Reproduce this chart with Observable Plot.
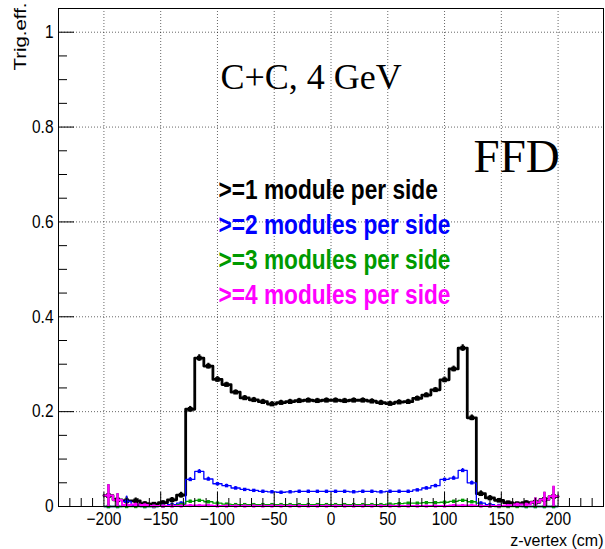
<!DOCTYPE html>
<html>
<head>
<meta charset="utf-8">
<script src="https://cdn.jsdelivr.net/npm/d3@7"></script>
<script src="https://cdn.jsdelivr.net/npm/@observablehq/plot@0.6"></script>
<style>
  body { margin: 0; background: #fff; }
  svg { display: block; }
</style>
</head>
<body>
<div id="chart"></div>
<script>
// z-vertex bin centres (8 cm bins from -200 to 200 cm)
const zCenters = d3.range(-196, 200, 8);

// Trigger efficiency per bin, one series per module multiplicity
const effGe1 = [
  0.023, 0.014, 0.012, 0.012, 0.006, 0.005, 0.008, 0.014, 0.024, 0.205,
  0.313, 0.296, 0.268, 0.257, 0.241, 0.229, 0.225, 0.221, 0.216, 0.219,
  0.221, 0.223, 0.224, 0.223, 0.224, 0.224, 0.223, 0.224, 0.224, 0.222,
  0.219, 0.217, 0.220, 0.221, 0.228, 0.235, 0.246, 0.267, 0.290, 0.334,
  0.187, 0.027, 0.018, 0.013, 0.008, 0.006, 0.008, 0.009, 0.015, 0.021
];
const errGe1 = [
  0.023, 0.013, 0.008, 0.006, 0.004, 0.003, 0.004, 0.005, 0.006, 0.006,
  0.007, 0.006, 0.006, 0.005, 0.005, 0.005, 0.005, 0.005, 0.005, 0.005,
  0.005, 0.005, 0.005, 0.005, 0.005, 0.005, 0.005, 0.005, 0.005, 0.005,
  0.005, 0.005, 0.005, 0.005, 0.005, 0.005, 0.005, 0.006, 0.006, 0.007,
  0.006, 0.006, 0.005, 0.004, 0.003, 0.003, 0.004, 0.009, 0.015, 0.021
];
const effGe2 = [
  0, 0, 0.011, 0.002, 0, 0, 0.002, 0.004, 0.007, 0.057,
  0.074, 0.058, 0.048, 0.044, 0.039, 0.036, 0.034, 0.032, 0.031, 0.030,
  0.031, 0.032, 0.032, 0.032, 0.032, 0.032, 0.032, 0.031, 0.032, 0.032,
  0.031, 0.032, 0.032, 0.032, 0.035, 0.039, 0.044, 0.057, 0.060, 0.076,
  0.050, 0.007, 0.004, 0.002, 0.001, 0.001, 0, 0, 0, 0
];
const errGe2 = [
  0, 0, 0.011, 0.002, 0, 0, 0.002, 0.002, 0.003, 0.004,
  0.004, 0.004, 0.003, 0.003, 0.003, 0.002, 0.002, 0.002, 0.002, 0.002,
  0.002, 0.002, 0.002, 0.002, 0.002, 0.002, 0.002, 0.002, 0.002, 0.002,
  0.002, 0.002, 0.002, 0.002, 0.002, 0.003, 0.003, 0.003, 0.004, 0.004,
  0.004, 0.003, 0.002, 0.001, 0.001, 0.001, 0, 0, 0, 0
];
const effGe3 = [
  0, 0, 0, 0, 0, 0, 0.001, 0.002, 0.004, 0.011,
  0.013, 0.010, 0.007, 0.005, 0.004, 0.004, 0.004, 0.004, 0.004, 0.004,
  0.004, 0.004, 0.004, 0.004, 0.004, 0.004, 0.004, 0.004, 0.004, 0.004,
  0.004, 0.005, 0.006, 0.007, 0.007, 0.008, 0.008, 0.009, 0.011, 0.013,
  0.010, 0.002, 0.001, 0, 0, 0, 0, 0, 0, 0
];
const errGe3 = [
  0, 0, 0, 0, 0, 0, 0.001, 0.001, 0.002, 0.002,
  0.002, 0.002, 0.002, 0.001, 0.001, 0.001, 0.001, 0.001, 0.001, 0.001,
  0.001, 0.001, 0.001, 0.001, 0.001, 0.001, 0.001, 0.001, 0.001, 0.001,
  0.001, 0.001, 0.001, 0.001, 0.001, 0.001, 0.002, 0.002, 0.002, 0.002,
  0.002, 0.001, 0.001, 0, 0, 0, 0, 0, 0, 0
];
const effGe4 = [
  0.023, 0.0135, 0.003, 0.004, 0.003, 0.001, 0.001, 0.001, 0.001, 0.002,
  0.002, 0.002, 0.001, 0.001, 0.001, 0.001, 0.001, 0.001, 0.001, 0.001,
  0.001, 0.001, 0.001, 0.001, 0.001, 0.001, 0.001, 0.001, 0.001, 0.001,
  0.001, 0.001, 0.001, 0.001, 0.001, 0.001, 0.001, 0.001, 0.002, 0.002,
  0.002, 0.001, 0.001, 0.001, 0.002, 0.004, 0.004, 0.009, 0.015, 0.0215
];
const errGe4 = [
  0.023, 0.0135, 0.002, 0.003, 0.002, 0.001, 0.001, 0.001, 0.001, 0.001,
  0.001, 0.001, 0.001, 0.001, 0.001, 0.001, 0.001, 0.001, 0.001, 0.001,
  0.001, 0.001, 0.001, 0.001, 0.001, 0.001, 0.001, 0.001, 0.001, 0.001,
  0.001, 0.001, 0.001, 0.001, 0.001, 0.001, 0.001, 0.001, 0.001, 0.001,
  0.001, 0.001, 0.001, 0.001, 0.002, 0.003, 0.003, 0.009, 0.015, 0.0215
];

const legendLabels = [
  ">=1 module per side",
  ">=2 modules per side",
  ">=3 modules per side",
  ">=4 modules per side"
];
const seriesColors = ["#000000", "#0000ff", "#009a00", "#ff00ff"];

const xTicks = [-200, -150, -100, -50, 0, 50, 100, 150, 200];
const yTicks = [0, 0.2, 0.4, 0.6, 0.8, 1];
const titleText = "C+C, 4 GeV";
const detectorText = "FFD";
const xLabel = "z-vertex (cm)";
const yLabel = "Trig.eff.";

// ---- layout ----
const W = 605, H = 549;
const mL = 58, mR = 2, mT = 8, mB = 43;
const frameW = W - mL - mR, frameH = H - mT - mB;
const binW = zCenters[1] - zCenters[0];

// histogram outline: flat top across each bin
function stepPoints(values) {
  const pts = [];
  zCenters.forEach((z, i) => {
    pts.push({z: z - binW / 2, v: values[i]});
    pts.push({z: z + binW / 2, v: values[i]});
  });
  return pts;
}
function binPoints(values, errs) {
  return zCenters.map((z, i) => ({z, v: values[i], lo: values[i] - errs[i], hi: values[i] + errs[i]}));
}

const series = [
  {vals: effGe1, errs: errGe1, color: seriesColors[0], lw: 2.8, r: 2.6, ew: 2.2},
  {vals: effGe2, errs: errGe2, color: seriesColors[1], lw: 1.3, r: 1.9, ew: 1.4},
  {vals: effGe3, errs: errGe3, color: seriesColors[2], lw: 1.3, r: 1.9, ew: 1.4},
  {vals: effGe4, errs: errGe4, color: seriesColors[3], lw: 2, r: 1.8, ew: 2.4}
];

const minorX = d3.range(-230, 240, 10).filter(d => d % 50 !== 0);
const minorY = d3.range(0.05, 1.05, 0.05).filter(d => Math.abs(d * 5 - Math.round(d * 5)) > 1e-6);

const marks = [
  // dotted grid
  Plot.ruleX(xTicks, {stroke: "#000", strokeOpacity: 0.6, strokeDasharray: "1,2"}),
  Plot.ruleY(yTicks.filter(d => d > 0), {stroke: "#000", strokeOpacity: 0.6, strokeDasharray: "1,2"})
];

series.forEach(s => {
  const b = binPoints(s.vals, s.errs);
  marks.push(
    Plot.line(stepPoints(s.vals), {x: "z", y: "v", stroke: s.color, strokeWidth: s.lw, curve: "linear"}),
    Plot.ruleX(b, {x: "z", y1: "lo", y2: "hi", stroke: s.color, strokeWidth: s.ew}),
    Plot.dot(b, {x: "z", y: "v", symbol: "square", r: s.r, fill: s.color, stroke: null})
  );
});

marks.push(
  Plot.frame({stroke: "#000", strokeWidth: 1}),
  // inward tick marks
  Plot.tickY(yTicks, {y: d => d, insetRight: frameW - 16, stroke: "#000"}),
  Plot.tickY(minorY, {y: d => d, insetRight: frameW - 9, stroke: "#000"}),
  Plot.tickX(xTicks, {x: d => d, insetTop: frameH - 14, stroke: "#000"}),
  Plot.tickX(minorX, {x: d => d, insetTop: frameH - 8, stroke: "#000"}),
  Plot.axisX(xTicks, {tickSize: 0, tickPadding: 6, fontSize: 18, label: null}),
  Plot.axisY(yTicks, {tickSize: 0, tickPadding: 5, fontSize: 18, label: null, tickFormat: d => String(d)}),
  // axis titles
  Plot.text([xLabel], {frameAnchor: "bottom-right", textAnchor: "end", lineAnchor: "bottom", dy: 39, fontSize: 16, fill: "#000"}),
  Plot.text([yLabel], {frameAnchor: "top-left", textAnchor: "end", lineAnchor: "bottom", rotate: -90, dx: -33, dy: -6, fontSize: 17, fill: "#000"}),
  // annotations
  Plot.text([titleText], {frameAnchor: "top-left", textAnchor: "start", lineAnchor: "bottom", dx: 162, dy: 80, fontSize: 36, fontFamily: "Liberation Serif", fill: "#000"}),
  Plot.text([detectorText], {frameAnchor: "top-left", textAnchor: "start", lineAnchor: "bottom", dx: 415, dy: 163, fontSize: 47, fontFamily: "Liberation Serif", fill: "#000"})
);

legendLabels.forEach((label, i) => {
  marks.push(Plot.text([label], {
    frameAnchor: "top-left", textAnchor: "start", lineAnchor: "bottom",
    dx: 160, dy: 190 + i * 35, fontSize: 28, fontWeight: "bold",
    fill: seriesColors[i]
  }));
});

const svg = Plot.plot({
  width: W, height: H,
  marginLeft: mL, marginRight: mR, marginTop: mT, marginBottom: mB,
  style: {fontFamily: "Liberation Sans, Arial, sans-serif", background: "#fff", color: "#000", overflow: "visible"},
  x: {domain: [-240, 240], label: null},
  y: {domain: [0, 1.05], label: null},
  marks
});

document.getElementById("chart").appendChild(svg);

// Condense / stretch glyphs along the text direction
function fitText(predicate, factor) {
  d3.select(svg).selectAll("text").each(function() {
    const s = this.textContent;
    if (!predicate(s)) return;
    const len = this.getComputedTextLength();
    this.setAttribute("textLength", (len * factor).toFixed(1));
    this.setAttribute("lengthAdjust", "spacingAndGlyphs");
  });
}
const legendSet = new Set(legendLabels);
const tickSet = new Set([...xTicks, ...yTicks].map(d => [String(d), String(d).replace("-", "\u2212")]).flat());
fitText(s => legendSet.has(s), 0.81);
fitText(s => tickSet.has(s), 0.86);
fitText(s => s === yLabel, 1.2);
</script>
</body>
</html>
